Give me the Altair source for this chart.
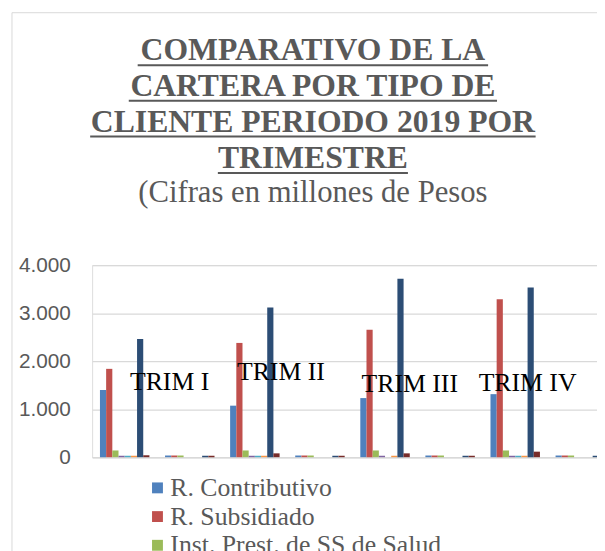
import altair as alt
import pandas as pd

categories = ["TRIM I", "TRIM I %", "TRIM II", "TRIM II %",
              "TRIM III", "TRIM III %", "TRIM IV", "TRIM IV %"]
series = ["R. Contributivo", "R. Subsidiado", "Inst. Prest. de SS de Salud",
          "Entes Territoriales", "Particulares", "Otros Deudores",
          "Total Cartera", "Glosas"]
colors = ["#4F81BD", "#C0504D", "#9BBB59", "#8064A2",
          "#4BACC6", "#F79646", "#2C4D75", "#772C2A"]

contributivo = [1400, 35, 1073, 35, 1231, 35, 1313, 35]
subsidiado = [1840, 35, 2380, 35, 2652, 35, 3288, 35]
ips = [140, 35, 140, 35, 140, 35, 140, 35]
entes = [30, 0, 30, 0, 30, 0, 30, 0]
particulares = [30, 0, 30, 0, 0, 0, 30, 0]
otros = [30, 0, 30, 0, 30, 0, 30, 0]
total = [2462, 30, 3118, 30, 3719, 30, 3534, 30]
glosas = [40, 30, 80, 30, 80, 30, 115, 30]

trim_labels = ["TRIM I", "TRIM II", "TRIM III", "TRIM IV"]
trim_pos = [1.19, 2.9, 4.88, 6.69]
trim_y = [1390, 1600, 1355, 1380]

title_lines = ["COMPARATIVO DE LA", "CARTERA POR TIPO DE",
               "CLIENTE PERIODO 2019 POR", "TRIMESTRE"]
subtitle = "(Cifras en millones de Pesos"

values = [contributivo, subsidiado, ips, entes, particulares, otros, total, glosas]
rows = []
for s, vals in zip(series, values):
    for c, v in zip(categories, vals):
        rows.append({"cat": c, "series": s, "value": v})
df = pd.DataFrame(rows)
lab = pd.DataFrame({"label": trim_labels, "pos": trim_pos, "y": trim_y})

GRAY = "#595959"
SERIF = "Liberation Serif"
yscale = alt.Scale(domain=[0, 4000])
XRANGE = [0, 526]

bars = alt.Chart(df).mark_bar().encode(
    x=alt.X("cat:N", sort=categories,
            scale=alt.Scale(paddingInner=0.24, paddingOuter=0.12, range=XRANGE),
            axis=alt.Axis(labels=False, ticks=False, title=None, grid=False,
                          domainColor="#D9D9D9", domainWidth=1.5)),
    xOffset=alt.XOffset("series:N", sort=series),
    y=alt.Y("value:Q", scale=yscale,
            axis=alt.Axis(values=[0, 1000, 2000, 3000, 4000],
                          labelExpr="replace(format(datum.value, ','), ',', '.')",
                          labelFont="Liberation Sans", labelFontSize=21,
                          labelColor=GRAY, labelPadding=22, ticks=False,
                          domain=False, gridColor="#D9D9D9", gridWidth=1.3,
                          title=None)),
    color=alt.Color("series:N", sort=series,
                    scale=alt.Scale(domain=series, range=colors),
                    legend=alt.Legend(values=series[:3], orient="none",
                                      legendX=53, legendY=212,
                                      direction="vertical", title=None,
                                      symbolType="square", symbolSize=121,
                                      symbolStrokeWidth=0,
                                      labelFont=SERIF,
                                      labelFontSize=26, labelColor=GRAY,
                                      labelOffset=0, rowPadding=3,
                                      labelLimit=500)),
)

texts = alt.Chart(lab).mark_text(
    font=SERIF, fontSize=26, color="#000000",
    baseline="alphabetic", align="center"
).encode(
    x=alt.X("pos:Q", scale=alt.Scale(domain=[0, 8], range=XRANGE), axis=None),
    y=alt.Y("y:Q", scale=yscale),
    text="label:N",
)

one = pd.DataFrame({"k": [0]})

# Title (drawn as text, centred over the chart area)
TX = 223
title_base = [-207, -171, -135, -98]
title_layers = []
for line, yb in zip(title_lines, title_base):
    title_layers.append(
        alt.Chart(pd.DataFrame({"t": [line]})).mark_text(
            font=SERIF, fontSize=32, fontWeight="bold", color=GRAY,
            align="center", baseline="alphabetic"
        ).encode(x=alt.value(TX), y=alt.value(yb), text="t:N")
    )
title_layers.append(
    alt.Chart(pd.DataFrame({"t": [subtitle]})).mark_text(
        font=SERIF, fontSize=31, color=GRAY,
        align="center", baseline="alphabetic"
    ).encode(x=alt.value(TX), y=alt.value(-64), text="t:N")
)

# underlines of the title lines (decoration)
underlines = [(46, 400, -202), (37, 409, -166), (-2, 448, -130), (127, 319, -93)]
deco = []
for x0, x1, yy in underlines:
    deco.append(alt.Chart(one).mark_rule(color=GRAY, strokeWidth=2).encode(
        x=alt.value(x0), x2=alt.value(x1), y=alt.value(yy)))

# chart-area border (left and top edges)
deco.append(alt.Chart(one).mark_rule(color="#D9D9D9", strokeWidth=1).encode(
    x=alt.value(-81), y=alt.value(-255), y2=alt.value(300)))
deco.append(alt.Chart(one).mark_rule(color="#D9D9D9", strokeWidth=1).encode(
    x=alt.value(-81), x2=alt.value(520), y=alt.value(-255)))

chart = alt.layer(bars, texts, *title_layers, *deco).resolve_scale(
    x="independent"
).properties(
    width=510, height=194,
    autosize=alt.AutoSizeParams(type="none"),
    padding={"left": 85, "top": 257, "right": 0, "bottom": 92},
).configure_view(stroke=None).configure(background="white")

chart.save("out.html", embed_options={"renderer": "svg", "actions": False})
